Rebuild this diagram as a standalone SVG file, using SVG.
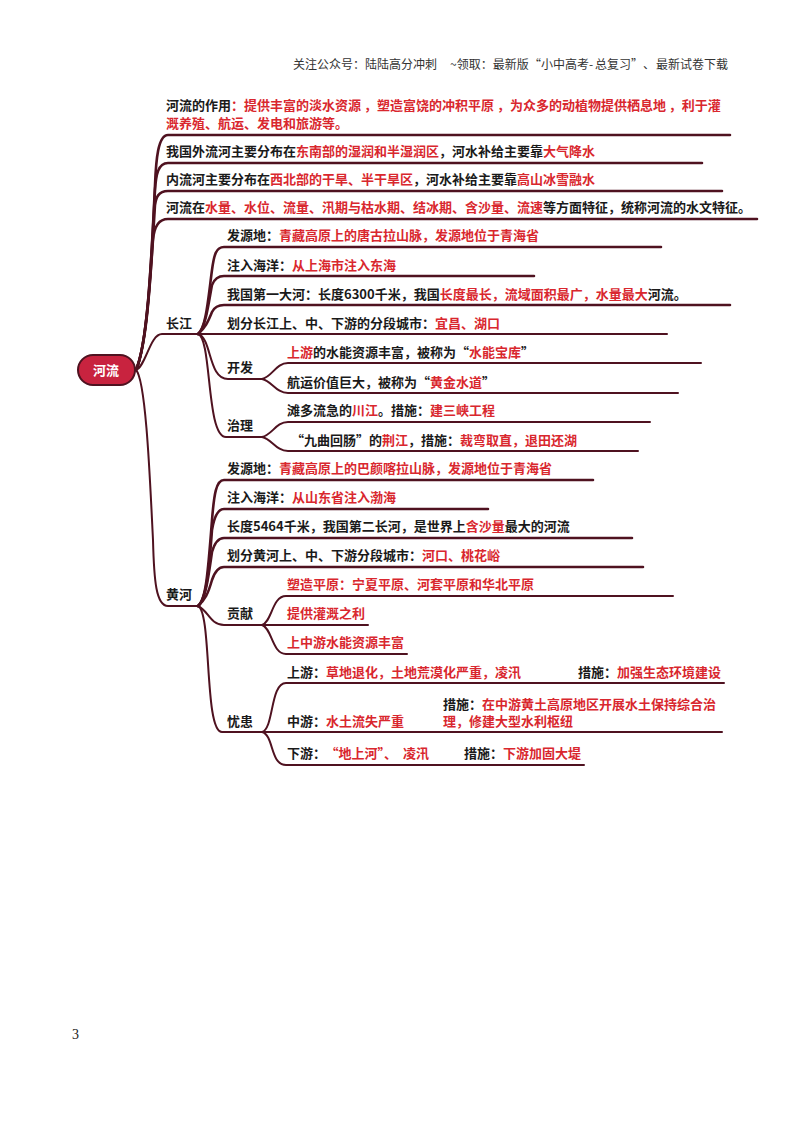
<svg xmlns="http://www.w3.org/2000/svg" width="800" height="1132" viewBox="0 0 800 1132">
<style>
text{font-family:"Noto Sans CJK SC","Liberation Sans",sans-serif;font-size:13px;font-weight:700;fill:#1a1a1a}
.r{fill:#d9272e}
.h{font-size:12px;font-weight:400;fill:#333}
.c{fill:none;stroke:#4f1220;stroke-width:2;stroke-linecap:round}
.b{fill:none;stroke:#4f1220;stroke-width:2.6;stroke-linecap:round}
</style>
<rect width="800" height="1132" fill="#fff"/>
<text class="h" x="293" y="69">关注公众号：陆陆高分冲刺</text>
<text class="h" x="450" y="69">~领取：最新版<tspan x="529">“</tspan><tspan x="541">小中高考-</tspan><tspan x="595">总复习</tspan><tspan x="631">”</tspan><tspan x="643">、</tspan><tspan x="656">最新试卷下载</tspan></text>
<g id="connectors">
<path class="b" d="M136 370C147 345 151 270 155 185C156 160 158 135 168 135H730"/>
<path class="b" d="M136 370C147 345 151 270 155 190C156 175 158 163 168 163H702"/>
<path class="b" d="M136 370C147 345 151 270 155 205C156 198 158 191 168 191H722"/>
<path class="b" d="M136 370C147 345 150 280 153 240C154 228 158 219 168 219H757"/>
<path class="c" d="M136 370C146 366 150 334 162 334H198"/>
<path class="c" d="M136 370C146 380 150 480 153 540C154 580 156 606 168 606H198"/>
<path class="b" d="M198 334C206 328 208 300 212 270C214 255 216 247 224 247H661"/>
<path class="b" d="M198 334C206 328 209 300 212 285C214 280 218 276 224 276H534"/>
<path class="b" d="M198 334C205 328 208 322 212 312C214 308 218 305 224 305H730"/>
<path class="c" d="M198 334H667"/>
<path class="c" d="M198 334C212 338 208 379 228 379H262"/>
<path class="c" d="M198 334C212 338 206 437 226 437H262"/>
<path class="c" d="M262 379C272 377 276 363 288 363H701"/>
<path class="c" d="M262 379C272 381 276 393 288 393H678"/>
<path class="c" d="M262 437C272 435 276 422 288 422H650"/>
<path class="c" d="M262 437C272 439 276 451 288 451H638"/>
<path class="b" d="M198 606C206 600 208 572 212 520C214 495 216 480 224 480H593"/>
<path class="b" d="M198 606C206 600 209 572 212 530C214 518 218 509 224 509H488"/>
<path class="b" d="M198 606C206 600 209 572 212 552C214 545 218 538 224 538H632"/>
<path class="b" d="M198 606C205 600 208 594 212 580C214 574 218 567 224 567H643"/>
<path class="c" d="M198 606C208 610 210 625 224 625H262"/>
<path class="c" d="M198 606C212 612 204 732 222 732H262"/>
<path class="c" d="M262 625C272 622 272 596 286 596H673"/>
<path class="c" d="M262 625H368"/>
<path class="c" d="M262 625C272 628 272 654 286 654H407"/>
<path class="c" d="M262 732C274 729 270 683 286 683H724"/>
<path class="c" d="M262 732H722"/>
<path class="c" d="M262 732C274 735 270 765 286 765H584"/>
</g>
<g id="root"><rect x="78" y="355" width="57" height="30" rx="15" fill="#c8233f" stroke="#4f1220" stroke-width="2"/><text x="93" y="375" style="fill:#fff">河流</text></g>
<g id="n1"><text x="166" y="110">河流的作用<tspan class="r">：提供丰富的淡水资源 ，塑造富饶的冲积平原 ，为众多的动植物提供栖息地 ，利于灌</tspan></text><text class="r" x="166" y="128">溉养殖、航运、发电和旅游等。</text></g>
<g id="n2"><text x="166" y="156">我国外流河主要分布在<tspan class="r">东南部的湿润和半湿润区</tspan>，河水补给主要靠<tspan class="r">大气降水</tspan></text></g>
<g id="n3"><text x="166" y="184">内流河主要分布在<tspan class="r">西北部的干旱、半干旱区</tspan>，河水补给主要靠<tspan class="r">高山冰雪融水</tspan></text></g>
<g id="n4"><text x="166" y="212">河流在<tspan class="r">水量、水位、流量、汛期与枯水期、结冰期、含沙量、流速</tspan>等方面特征，统称河流的水文特征。</text></g>
<g id="cj"><text x="166" y="328">长江</text></g>
<g id="cj1"><text x="227" y="240">发源地：<tspan class="r">青藏高原上的唐古拉山脉，发源地位于青海省</tspan></text></g>
<g id="cj2"><text x="227" y="270">注入海洋：<tspan class="r">从上海市注入东海</tspan></text></g>
<g id="cj3"><text x="227" y="299">我国第一大河：长度6300千米，我国<tspan class="r">长度最长，流域面积最广，水量最大</tspan>河流。</text></g>
<g id="cj4"><text x="227" y="328">划分长江上、中、下游的分段城市：<tspan class="r">宜昌、湖口</tspan></text></g>
<g id="cj5"><text x="227" y="372">开发</text></g>
<g id="cj51"><text x="287" y="357"><tspan class="r">上游</tspan>的水能资源丰富，被称为“<tspan class="r">水能宝库</tspan>”</text></g>
<g id="cj52"><text x="287" y="387">航运价值巨大，被称为“<tspan class="r">黄金水道</tspan>”</text></g>
<g id="cj6"><text x="227" y="430">治理</text></g>
<g id="cj61"><text x="287" y="415">滩多流急的<tspan class="r">川江</tspan>。措施：<tspan class="r">建三峡工程</tspan></text></g>
<g id="cj62"><text x="291" y="445">“九曲回肠”的<tspan class="r">荆江</tspan>，措施：<tspan class="r">裁弯取直，退田还湖</tspan></text></g>
<g id="hh"><text x="166" y="599">黄河</text></g>
<g id="hh1"><text x="227" y="473">发源地：<tspan class="r">青藏高原上的巴颜喀拉山脉，发源地位于青海省</tspan></text></g>
<g id="hh2"><text x="227" y="502">注入海洋：<tspan class="r">从山东省注入渤海</tspan></text></g>
<g id="hh3"><text x="227" y="531">长度5464千米，我国第二长河，是世界上<tspan class="r">含沙量</tspan>最大的河流</text></g>
<g id="hh4"><text x="227" y="560">划分黄河上、中、下游分段城市：<tspan class="r">河口、桃花峪</tspan></text></g>
<g id="hh5"><text x="227" y="618">贡献</text></g>
<g id="hh51"><text class="r" x="287" y="589">塑造平原：宁夏平原、河套平原和华北平原</text></g>
<g id="hh52"><text class="r" x="287" y="618">提供灌溉之利</text></g>
<g id="hh53"><text class="r" x="287" y="647">上中游水能资源丰富</text></g>
<g id="hh6"><text x="227" y="726">忧患</text></g>
<g id="hh61"><text x="287" y="677">上游：<tspan class="r">草地退化，土地荒漠化严重，凌汛</tspan></text><text x="578" y="677">措施：<tspan class="r">加强生态环境建设</tspan></text></g>
<g id="hh62"><text x="287" y="726">中游：<tspan class="r">水土流失严重</tspan></text><text x="443" y="709">措施：<tspan class="r">在中游黄土高原地区开展水土保持综合治</tspan></text><text class="r" x="443" y="726">理，修建大型水利枢纽</text></g>
<g id="hh63"><text x="287" y="758">下游：<tspan class="r" dx="6">“地上河”、</tspan><tspan class="r" x="403">凌汛</tspan></text><text x="464" y="758">措施：<tspan class="r">下游加固大堤</tspan></text></g>
<text x="72" y="1039" style="font-family:'Liberation Serif',serif;font-size:14px;font-weight:400">3</text>
</svg>
